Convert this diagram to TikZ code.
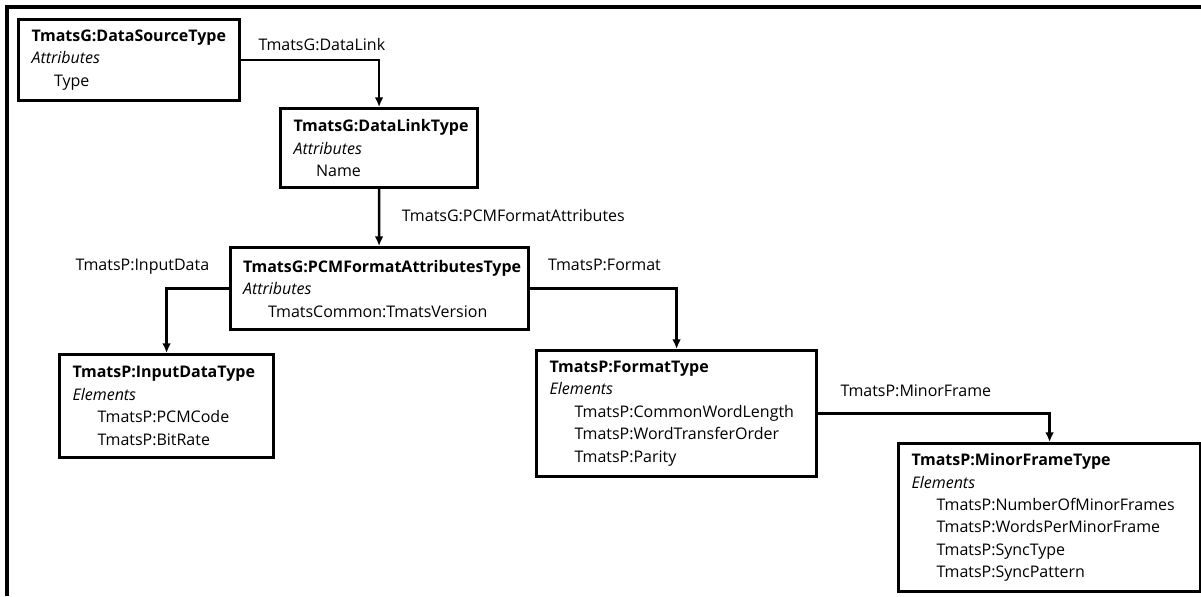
\documentclass[tikz,border=0pt]{standalone}
\usepackage{fontspec}
\setmainfont{Open Sans}
\usepackage{tikz}
\usetikzlibrary{positioning,arrows.meta}
\hyphenpenalty=10000

\begin{document}
\begin{tikzpicture}[
  typebox/.style={draw, line width=1.8pt, anchor=north west, align=left,
    inner xsep=0.26cm, inner ysep=0pt,
    font=\fontsize{9.1}{12.8}\selectfont},
  lbl/.style={inner sep=0pt, font=\fontsize{9.1}{12.8}\selectfont},
  conn/.style={line width=1.4pt, -{Latex[length=5.5pt,width=5pt]}}]

\useasboundingbox (0,0) rectangle (24.02,-11.92);
\draw[line width=1.8pt] (0.14,-11.92) -- (0.14,-0.14) -- (24.02,-0.14);

% type boxes
\node[typebox, text width=3.90cm, minimum height=1.62cm] (src) at (0.34,-0.36)
  {\textbf{TmatsG:DataSourceType}\\ \textit{Attributes}\\ \hspace*{0.45cm}Type};
\node[typebox, text width=3.42cm, minimum height=1.58cm] (link) at (5.58,-2.14)
  {\textbf{TmatsG:DataLinkType}\\ \textit{Attributes}\\ \hspace*{0.45cm}Name};
\node[typebox, text width=5.44cm, minimum height=1.64cm] (pcm) at (4.57,-4.92)
  {\textbf{TmatsG:PCMFormatAttributesType}\\ \textit{Attributes}\\ \hspace*{0.5cm}TmatsCommon:TmatsVersion};
\node[typebox, text width=3.76cm, minimum height=2.06cm] (input) at (1.16,-7.06)
  {\textbf{TmatsP:InputDataType}\\ \textit{Elements}\\ \hspace*{0.5cm}TmatsP:PCMCode\\ \hspace*{0.5cm}TmatsP:BitRate};
\node[typebox, text width=5.08cm, minimum height=2.52cm] (format) at (10.70,-6.98)
  {\textbf{TmatsP:FormatType}\\ \textit{Elements}\\ \hspace*{0.5cm}TmatsP:CommonWordLength\\
   \hspace*{0.5cm}TmatsP:WordTransferOrder\\ \hspace*{0.5cm}TmatsP:Parity};
\node[typebox, text width=5.52cm, minimum height=2.96cm] (minor) at (17.94,-8.84)
  {\textbf{TmatsP:MinorFrameType}\\ \textit{Elements}\\ \hspace*{0.5cm}TmatsP:NumberOfMinorFrames\\
   \hspace*{0.5cm}TmatsP:WordsPerMinorFrame\\ \hspace*{0.5cm}TmatsP:SyncType\\ \hspace*{0.5cm}TmatsP:SyncPattern};

% links
\draw[conn] (src.east) -| (link.north);
\draw[conn] (link.south) -- (pcm.north);
\draw[conn] (pcm.west) -| (input.north);
\draw[conn] (pcm.east) -| (format.north);
\draw[conn] (format.east) -| (minor.north);

\node[lbl, anchor=west] (lbldatalink) at ([xshift=0.34cm, yshift=0.31cm]src.east) {TmatsG:DataLink};
\node[lbl, anchor=west] (lblpcm) at ([xshift=0.45cm, yshift=-0.52cm]link.south) {TmatsG:PCMFormatAttributes};
\node[lbl, anchor=east] (lblinput) at ([xshift=-0.38cm, yshift=0.44cm]pcm.west) {TmatsP:InputData};
\node[lbl, anchor=west] (lblformat) at ([xshift=0.36cm, yshift=0.48cm]pcm.east) {TmatsP:Format};
\node[lbl, anchor=west] (lblminor) at ([xshift=0.44cm, yshift=0.46cm]format.east) {TmatsP:MinorFrame};
\end{tikzpicture}
\end{document}
